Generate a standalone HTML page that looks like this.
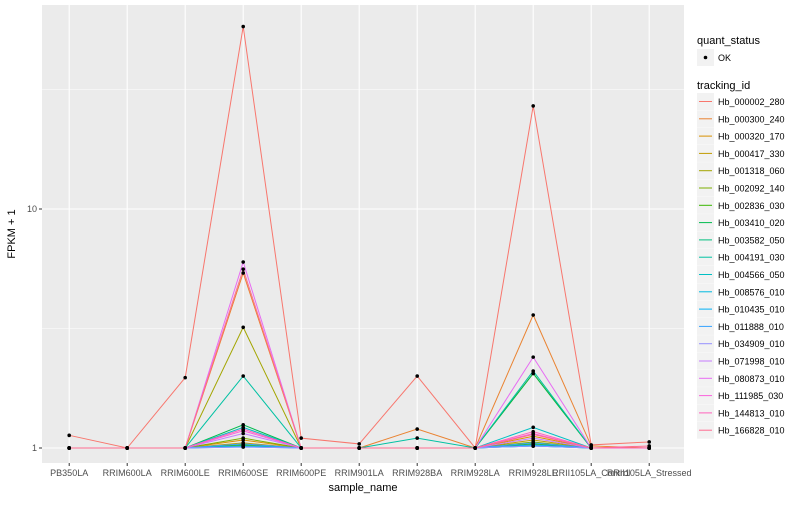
<!DOCTYPE html>
<html><head><meta charset="utf-8"><style>
body{margin:0;background:#fff;font-family:"Liberation Sans",sans-serif;}
svg text{font-family:"Liberation Sans",sans-serif;}
</style></head><body>
<svg id="chart" width="800" height="500" xmlns="http://www.w3.org/2000/svg">
<rect x="0" y="0" width="800" height="500" fill="#fff"/>
<rect x="42" y="5" width="642" height="458" fill="#ebebeb"/>
<g id="grid"></g><g id="lines"></g><g id="pts"></g><g id="axes"></g><g id="legend"></g>
<text x="363" y="491" font-size="11" text-anchor="middle" fill="#000">sample_name</text>
<text transform="translate(15,234) rotate(-90)" font-size="11" text-anchor="middle" fill="#000">FPKM + 1</text>
</svg>
<script>
const categories=["PB350LA","RRIM600LA","RRIM600LE","RRIM600SE","RRIM600PE","RRIM901LA","RRIM928BA","RRIM928LA","RRIM928LE","RRII105LA_Control","RRII105LA_Stressed"];
const seriesNames=["Hb_000002_280","Hb_000300_240","Hb_000320_170","Hb_000417_330","Hb_001318_060","Hb_002092_140","Hb_002836_030","Hb_003410_020","Hb_003582_050","Hb_004191_030","Hb_004566_050","Hb_008576_010","Hb_010435_010","Hb_011888_010","Hb_034909_010","Hb_071998_010","Hb_080873_010","Hb_111985_030","Hb_144813_010","Hb_166828_010"];
const colors=["#F8766D","#EA8331","#D89000","#C09B00","#A3A500","#7CAE00","#39B600","#00BB4E","#00BF7D","#00C1A3","#00BFC4","#00BAE0","#00B0F6","#35A2FF","#9590FF","#C77CFF","#E76BF3","#FA62DB","#FF62BC","#FF6C91"];
const s01=[1.13,1,1.97,58,1.1,1.04,2.0,1,27,1.03,1.06];
const s02=[1,1,1,5.4,1,1,1.2,1,3.6,1.02,1];
const s03=[1,1,1,1.08,1,1,1,1,1.12,1,1];
const s04=[1,1,1,1.05,1,1,1,1,1.08,1,1];
const s05=[1,1,1,3.2,1,1,1,1,2.05,1,1];
const s06=[1,1,1,1.1,1,1,1,1,1.06,1,1];
const s07=[1,1,1,1.03,1,1,1,1,1.04,1,1];
const s08=[1,1,1,1.25,1,1,1,1,2.05,1,1];
const s09=[1,1,1,1.02,1,1,1,1,1.02,1,1];
const s10=[1,1,1,2.0,1,1,1.1,1,2.1,1,1];
const s11=[1,1,1,1.22,1,1,1,1,1.22,1,1];
const s12=[1,1,1,1.02,1,1,1,1,1.02,1,1];
const s13=[1,1,1,1.01,1,1,1,1,1.03,1,1];
const s14=[1,1,1,1.04,1,1,1,1,1.05,1,1];
const s15=[1,1,1,1.01,1,1,1,1,1.02,1,1];
const s16=[1,1,1,1.15,1,1,1,1,1.1,1,1];
const s17=[1,1,1,6.0,1,1,1,1,2.4,1,1];
const s18=[1,1,1,1.18,1,1,1,1,1.15,1,1];
const s19=[1,1,1,1.2,1,1,1,1,1.17,1,1];
const s20=[1,1,1,5.6,1,1,1,1,1.14,1,1.02];
const seriesValues=[s01,s02,s03,s04,s05,s06,s07,s08,s09,s10,s11,s12,s13,s14,s15,s16,s17,s18,s19,s20];
const yTicks=[1,10];
const yMinor=[Math.sqrt(10),Math.pow(10,1.5)];
const NS="http://www.w3.org/2000/svg";
function xs(i){return 69.2+i*58.0;}
function ys(v){return 448-239*Math.log10(v);}
function mk(tag,attrs,parent){const e=document.createElementNS(NS,tag);for(const k in attrs)e.setAttribute(k,attrs[k]);parent.appendChild(e);return e;}
const grid=document.getElementById('grid'),lines=document.getElementById('lines'),pts=document.getElementById('pts'),axes=document.getElementById('axes'),leg=document.getElementById('legend');
yMinor.forEach(v=>{const l=mk('line',{x1:42,x2:684,y1:ys(v),y2:ys(v),stroke:'#fff','stroke-width':0.5},grid);

});
yTicks.forEach(v=>{const l=mk('line',{x1:42,x2:684,y1:ys(v),y2:ys(v),stroke:'#fff','stroke-width':1.1},grid);


mk('line',{x1:39,x2:42,y1:ys(v),y2:ys(v),stroke:'#333'},axes);
const t=mk('text',{x:37,y:ys(v)+3,'font-size':9,'text-anchor':'end',fill:'#4d4d4d'},axes);t.textContent=v;

});
categories.forEach((c,i)=>{const l=mk('line',{x1:xs(i),x2:xs(i),y1:5,y2:463,stroke:'#fff','stroke-width':1.1},grid);


mk('line',{x1:xs(i),x2:xs(i),y1:463,y2:466,stroke:'#333'},axes);
const t=mk('text',{x:xs(i),y:476,'font-size':9,'text-anchor':'middle',fill:'#4d4d4d'},axes);t.textContent=c;

});
seriesValues.forEach((vals,s)=>{const p=mk('polyline',{points:vals.map((v,i)=>xs(i)+','+ys(v)).join(' '),fill:'none',stroke:colors[s],'stroke-width':1},lines);


vals.forEach((v,i)=>{const d=mk('circle',{cx:xs(i),cy:ys(v),r:1.8,fill:'#000'},pts);

});});
let t=mk('text',{x:697,y:44,'font-size':11,fill:'#000'},leg);t.textContent='quant_status';


let r=mk('rect',{x:697,y:49,width:17,height:17,fill:'#f2f2f2'},leg);


mk('circle',{cx:705.5,cy:57.5,r:1.8,fill:'#000'},leg);
t=mk('text',{x:718,y:61,'font-size':9,fill:'#000'},leg);t.textContent='OK';


t=mk('text',{x:697,y:89,'font-size':11,fill:'#000'},leg);t.textContent='tracking_id';


seriesNames.forEach((n,s)=>{const y=93+s*17.3;
const g=mk('g',{},leg);


mk('rect',{x:697,y:y,width:17,height:17,fill:'#f2f2f2'},g);
mk('line',{x1:699,x2:712,y1:y+8.5,y2:y+8.5,stroke:colors[s],'stroke-width':1},g);
const tt=mk('text',{x:718,y:y+12,'font-size':9,fill:'#000'},g);tt.textContent=n;});
</script>
</body></html>
